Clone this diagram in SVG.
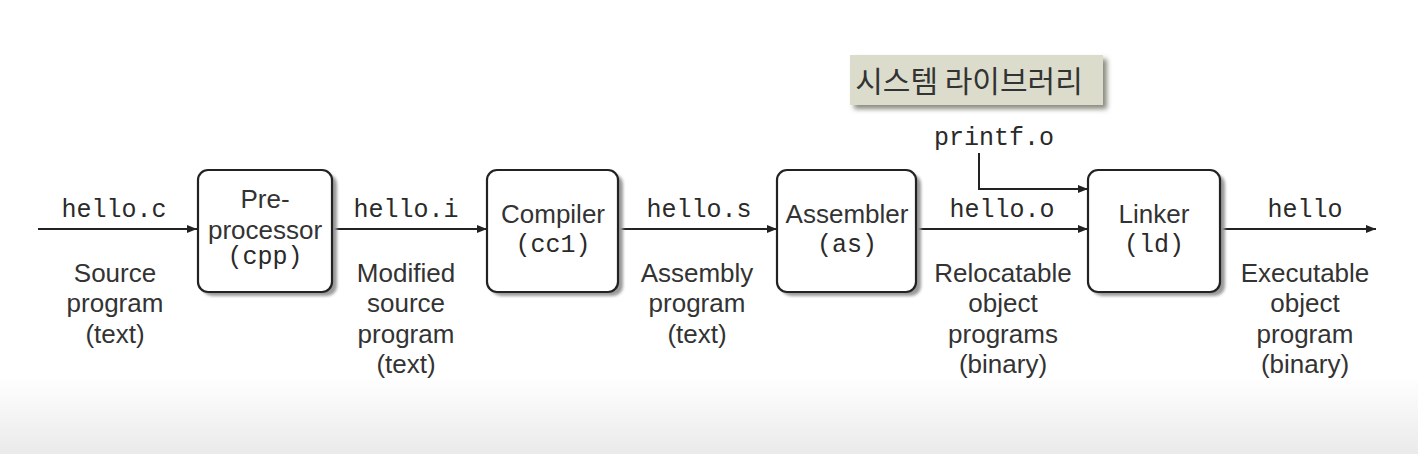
<svg xmlns="http://www.w3.org/2000/svg" width="1418" height="454" viewBox="0 0 1418 454">
<style>
.box{fill:#fff;stroke:#222;stroke-width:2.2}
.shadow{fill:#9a9a9a;filter:url(#blur)}
.sans{font-family:"Liberation Sans",Arial,sans-serif;font-size:26px;fill:#333;text-anchor:middle}
.mono{font-family:"Liberation Mono","Courier New",monospace;font-size:25px;fill:#2a2a2a;text-anchor:middle}
.conn{stroke:#222;stroke-width:2;fill:none;marker-end:url(#ah)}
.kr{font-family:"Noto Sans CJK KR","Noto Sans",sans-serif;font-size:30px;fill:#333;text-anchor:middle}
</style>
<defs>
<linearGradient id="bg" x1="0" y1="0" x2="0" y2="1">
<stop offset="0" stop-color="#ffffff"/>
<stop offset="0.83" stop-color="#ffffff"/>
<stop offset="1" stop-color="#eaeaea"/>
</linearGradient>
<filter id="blur" x="-10%" y="-10%" width="120%" height="120%"><feGaussianBlur stdDeviation="1.5"/></filter>
<filter id="blur2" x="-10%" y="-30%" width="120%" height="160%"><feGaussianBlur stdDeviation="2.5"/></filter>
<marker id="ah" viewBox="0 0 10 8" refX="10" refY="4" markerWidth="10" markerHeight="8" markerUnits="userSpaceOnUse" orient="auto">
<path d="M0,0 L10,4 L0,8 Z" fill="#222"/>
</marker>
</defs>
<rect width="1418" height="454" fill="url(#bg)"/>

<g id="library-label">
<rect x="854" y="59" width="253" height="50" fill="#8a8a80" filter="url(#blur2)"/>
<rect x="850" y="55" width="253" height="50" fill="#dcdccc"/>
<text class="kr" x="969" y="92">시스템 라이브러리</text>
</g>

<g id="connectors">
<line class="conn" x1="38" y1="229" x2="197" y2="229"/>
<line class="conn" x1="332" y1="229" x2="487" y2="229"/>
<line class="conn" x1="618" y1="229" x2="777" y2="229"/>
<line class="conn" x1="917" y1="229" x2="1088" y2="229"/>
<polyline class="conn" points="979,153 979,189 1088,189"/>
<line class="conn" x1="1220" y1="229" x2="1376" y2="229"/>
</g>

<g id="labels">
<text class="mono" x="114" y="217">hello.c</text>
<text class="sans" x="115" y="282">Source</text>
<text class="sans" x="115" y="312">program</text>
<text class="sans" x="115" y="343">(text)</text>

<text class="mono" x="406" y="217">hello.i</text>
<text class="sans" x="406" y="282">Modified</text>
<text class="sans" x="406" y="312">source</text>
<text class="sans" x="406" y="343">program</text>
<text class="sans" x="406" y="373">(text)</text>

<text class="mono" x="699" y="217">hello.s</text>
<text class="sans" x="697" y="282">Assembly</text>
<text class="sans" x="697" y="312">program</text>
<text class="sans" x="697" y="343">(text)</text>

<text class="mono" x="994" y="145">printf.o</text>
<text class="mono" x="1002" y="217">hello.o</text>
<text class="sans" x="1003" y="282">Relocatable</text>
<text class="sans" x="1003" y="312">object</text>
<text class="sans" x="1003" y="343">programs</text>
<text class="sans" x="1003" y="373">(binary)</text>

<text class="mono" x="1305" y="217">hello</text>
<text class="sans" x="1305" y="282">Executable</text>
<text class="sans" x="1305" y="312">object</text>
<text class="sans" x="1305" y="343">program</text>
<text class="sans" x="1305" y="373">(binary)</text>
</g>

<g id="preprocessor">
<rect class="shadow" x="202" y="174" width="135" height="122" rx="10"/>
<rect class="box" x="198" y="170" width="134" height="122" rx="10"/>
<text class="sans" x="265" y="208">Pre-</text>
<text class="sans" x="265" y="239">processor</text>
<text class="mono" x="265" y="264">(cpp)</text>
</g>

<g id="compiler">
<rect class="shadow" x="491" y="174" width="132" height="122" rx="10"/>
<rect class="box" x="487" y="170" width="131" height="122" rx="10"/>
<text class="sans" x="553" y="223">Compiler</text>
<text class="mono" x="553" y="252">(cc1)</text>
</g>

<g id="assembler">
<rect class="shadow" x="781" y="174" width="140" height="122" rx="10"/>
<rect class="box" x="777" y="170" width="139" height="122" rx="10"/>
<text class="sans" x="847" y="223">Assembler</text>
<text class="mono" x="847" y="252">(as)</text>
</g>

<g id="linker">
<rect class="shadow" x="1092" y="174" width="133" height="122" rx="10"/>
<rect class="box" x="1088" y="170" width="132" height="122" rx="10"/>
<text class="sans" x="1154" y="223">Linker</text>
<text class="mono" x="1154" y="252">(ld)</text>
</g>
</svg>
